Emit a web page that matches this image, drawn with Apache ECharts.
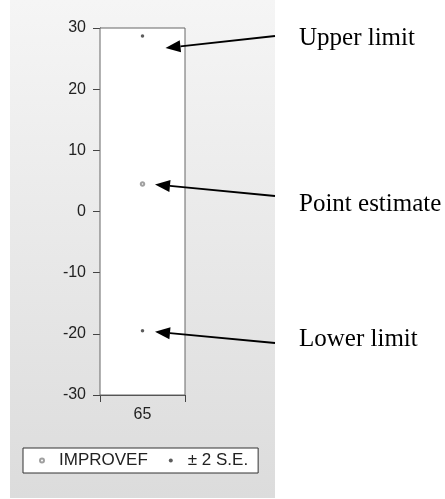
<!DOCTYPE html>
<html>
<head>
<meta charset="utf-8">
<script src="https://cdn.jsdelivr.net/npm/echarts@6/dist/echarts.min.js"></script>
<style>
  html, body { margin: 0; padding: 0; background: #ffffff; }
  #chart { width: 445px; height: 499px; }
</style>
</head>
<body>
<div id="chart"></div>
<script>
// Forecast for observation 65 with a ±2 standard-error band
const categories = ['65'];
const pointEstimate = [4.5];
const upperLimit = [28.7];
const lowerLimit = [-19.5];
const yMin = -30, yMax = 30, yStep = 10;
const seriesNames = ['IMPROVEF', '± 2 S.E.'];
const noteLabels = ['Upper limit', 'Point estimate', 'Lower limit'];

const chart = echarts.init(document.getElementById('chart'), null, { renderer: 'canvas' });

const axisFont = { fontFamily: '"Liberation Sans", Arial, sans-serif', fontSize: 16, color: '#222' };

const bandData = [];
categories.forEach((c, i) => {
  bandData.push([c, upperLimit[i]]);
  bandData.push([c, lowerLimit[i]]);
});

const option = {
  animation: false,
  backgroundColor: '#ffffff',
  grid: {
    left: 100, top: 28, width: 85, height: 367,
    show: true, backgroundColor: '#ffffff',
    borderColor: '#666', borderWidth: 1, z: 1
  },
  xAxis: {
    type: 'category',
    data: categories,
    boundaryGap: true,
    axisLine: { onZero: false, lineStyle: { color: '#444', width: 1 } },
    axisTick: { show: true, length: 7, alignWithLabel: false, lineStyle: { color: '#444' } },
    axisLabel: Object.assign({ margin: 12 }, axisFont),
    splitLine: { show: false }
  },
  yAxis: {
    type: 'value',
    min: yMin, max: yMax, interval: yStep,
    axisLine: { show: true, onZero: false, lineStyle: { color: '#444', width: 1 } },
    axisTick: { show: true, length: 7, lineStyle: { color: '#444' } },
    axisLabel: Object.assign({ margin: 14 }, axisFont),
    splitLine: { show: false }
  },
  legend: {
    left: 23, top: 448,
    data: seriesNames,
    backgroundColor: '#ffffff',
    borderColor: '#333', borderWidth: 1,
    padding: [4, 10, 4, 16],
    itemWidth: 4, itemHeight: 4,
    itemGap: 21,
    textStyle: {
      fontFamily: '"Liberation Sans", Arial, sans-serif',
      fontSize: 17, color: '#222', padding: [0, 0, 0, 10]
    }
  },
  series: [
    {
      name: seriesNames[0],
      type: 'scatter',
      symbol: 'emptyCircle',
      symbolSize: 3.5,
      itemStyle: { color: '#888', borderWidth: 1 },
      data: categories.map((c, i) => [c, pointEstimate[i]]),
      z: 3
    },
    {
      name: seriesNames[1],
      type: 'scatter',
      symbol: 'circle',
      symbolSize: 3.5,
      itemStyle: { color: '#333' },
      data: bandData,
      z: 3
    }
  ],
  graphic: [
    {
      id: 'panel', type: 'rect', z: -10, silent: true,
      shape: { x: 10, y: 0, width: 265, height: 498 },
      style: {
        fill: new echarts.graphic.LinearGradient(0, 0, 0, 1, [
          { offset: 0, color: '#f5f5f5' },
          { offset: 1, color: '#dcdcdc' }
        ])
      }
    }
  ]
};

chart.setOption(option);

// Callout arrows: tip placed relative to each marker, tail at the panel edge
const notes = [
  { text: noteLabels[0], value: upperLimit[0], dx: 23, dy: 12, tailY: 36, textY: 38 },
  { text: noteLabels[1], value: pointEstimate[0], dx: 12.5, dy: 0.5, tailY: 196, textY: 204 },
  { text: noteLabels[2], value: lowerLimit[0], dx: 12.5, dy: 1, tailY: 343, textY: 339 }
];

const extra = [];
notes.forEach((n, i) => {
  const p = chart.convertToPixel({ seriesIndex: 0 }, [categories[0], n.value]);
  const tip = [p[0] + n.dx, p[1] + n.dy];
  const tail = [275, n.tailY];
  const ang = Math.atan2(tail[1] - tip[1], tail[0] - tip[0]);
  const headLen = 15, headHalf = 6;
  const bx = tip[0] + Math.cos(ang) * headLen, by = tip[1] + Math.sin(ang) * headLen;
  const nx = -Math.sin(ang) * headHalf, ny = Math.cos(ang) * headHalf;
  extra.push({
    id: 'line' + i, type: 'line', z: 20, silent: true,
    shape: { x1: tail[0], y1: tail[1], x2: bx, y2: by },
    style: { stroke: '#000', lineWidth: 1.8 }
  });
  extra.push({
    id: 'head' + i, type: 'polygon', z: 20, silent: true,
    shape: { points: [tip, [bx + nx, by + ny], [bx - nx, by - ny]] },
    style: { fill: '#000' }
  });
  extra.push({
    id: 'note' + i, type: 'text', z: 20, silent: true,
    x: 299, y: n.textY,
    style: {
      text: n.text,
      font: '25px "Liberation Serif", "Times New Roman", serif',
      fill: '#000',
      verticalAlign: 'middle'
    }
  });
});

chart.setOption({ graphic: option.graphic.concat(extra) });
</script>
</body>
</html>
